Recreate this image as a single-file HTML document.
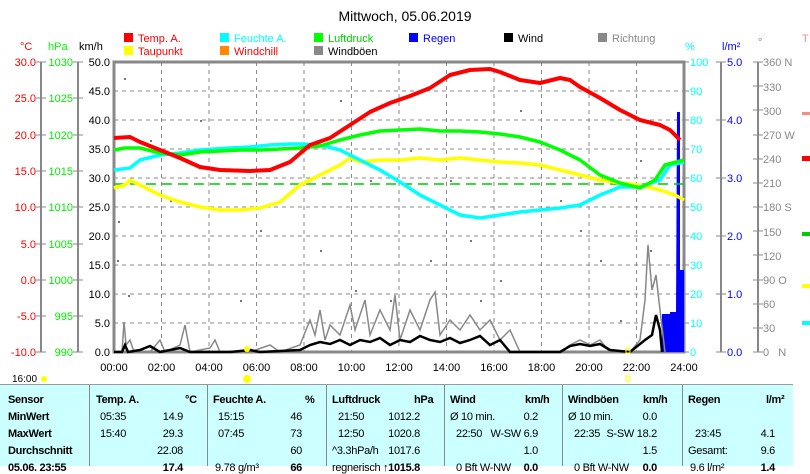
<!DOCTYPE html>
<html><head><style>
body{margin:0;width:810px;height:465px;overflow:hidden;background:#fff;font-family:"Liberation Sans",sans-serif;}
.t{position:absolute;left:0;top:384px;width:793px;height:81px;background:#ccffff;border-top:1px solid #999;font-size:11px;letter-spacing:-0.3px;}
.c{position:absolute;top:0;height:81px;border-left:1px solid #888;}
.r{position:absolute;white-space:nowrap;}
b{font-weight:bold}
</style></head><body>
<svg width="810" height="384" style="position:absolute;left:0;top:0" font-family="Liberation Sans, sans-serif" font-size="11">
<text x="405" y="21" text-anchor="middle" font-size="14">Mittwoch, 05.06.2019</text>
<g font-size="11">
<rect x="124" y="33" width="9" height="9" fill="#f00"/><text x="138" y="42" fill="#f00">Temp. A.</text>
<rect x="124" y="46" width="9" height="9" fill="#ff0"/><text x="138" y="55" fill="#f00">Taupunkt</text>
<rect x="220" y="33" width="9" height="9" fill="#0ff"/><text x="234" y="42" fill="#0ff">Feuchte A.</text>
<rect x="220" y="46" width="9" height="9" fill="#f80"/><text x="234" y="55" fill="#f00">Windchill</text>
<rect x="314" y="33" width="9" height="9" fill="#0f0"/><text x="328" y="42" fill="#0c0">Luftdruck</text>
<rect x="314" y="46" width="9" height="9" fill="#888"/><text x="328" y="55">Windböen</text>
<rect x="409" y="33" width="9" height="9" fill="#00f"/><text x="423" y="42" fill="#00f">Regen</text>
<rect x="504" y="33" width="9" height="9" fill="#000"/><text x="518" y="42">Wind</text>
<rect x="598" y="33" width="9" height="9" fill="#888"/><text x="612" y="42" fill="#888">Richtung</text>
</g>
<text x="20" y="50" fill="#f00">°C</text><text x="48" y="50" fill="#0f0">hPa</text><text x="79" y="50">km/h</text>
<text x="685" y="50" fill="#0ff">%</text><text x="722" y="50" fill="#00f">l/m²</text><text x="758" y="46" fill="#888">°</text>
<g stroke="#888" stroke-width="2"><line x1="41" y1="62" x2="41" y2="352"/><line x1="78" y1="62" x2="78" y2="352"/>
<line x1="721" y1="62" x2="721" y2="352"/><line x1="758" y1="62" x2="758" y2="352"/></g>
<g font-size="11" text-anchor="end">
<g fill="#f00"><text x="36" y="66">30.0</text><text x="36" y="102">25.0</text><text x="36" y="139">20.0</text><text x="36" y="175">15.0</text><text x="36" y="211">10.0</text><text x="36" y="248">5.0</text><text x="36" y="284">0.0</text><text x="36" y="320">-5.0</text><text x="36" y="356">-10.0</text></g>
<g fill="#0e0"><text x="73" y="66">1030</text><text x="73" y="102">1025</text><text x="73" y="139">1020</text><text x="73" y="175">1015</text><text x="73" y="211">1010</text><text x="73" y="248">1005</text><text x="73" y="284">1000</text><text x="73" y="320">995</text><text x="73" y="356">990</text></g>
<g fill="#000"><text x="110" y="66">50.0</text><text x="110" y="95">45.0</text><text x="110" y="124">40.0</text><text x="110" y="153">35.0</text><text x="110" y="182">30.0</text><text x="110" y="211">25.0</text><text x="110" y="240">20.0</text><text x="110" y="269">15.0</text><text x="110" y="298">10.0</text><text x="110" y="327">5.0</text><text x="110" y="356">0.0</text></g>
</g>
<g font-size="11" fill="#0ff"><text x="690" y="66">100</text><text x="690" y="95">90</text><text x="690" y="124">80</text><text x="690" y="153">70</text><text x="690" y="182">60</text><text x="690" y="211">50</text><text x="690" y="240">40</text><text x="690" y="269">30</text><text x="690" y="298">20</text><text x="690" y="327">10</text><text x="690" y="356">0</text></g>
<g font-size="11" fill="#00f"><text x="727" y="66">5.0</text><text x="727" y="124">4.0</text><text x="727" y="182">3.0</text><text x="727" y="240">2.0</text><text x="727" y="298">1.0</text><text x="727" y="356">0.0</text></g>
<g font-size="11" fill="#888"><text x="763" y="66">360 N</text><text x="763" y="91">330</text><text x="763" y="115">300</text><text x="763" y="139">270 W</text><text x="763" y="163">240</text><text x="763" y="187">210</text><text x="763" y="211">180 S</text><text x="763" y="236">150</text><text x="763" y="260">120</text><text x="763" y="284">90 O</text><text x="763" y="308">60</text><text x="763" y="332">30</text><text x="763" y="356">0&#160;&#160;&#160;N</text></g>
<g stroke="#888" stroke-width="1">
<path d="M36 62h10M36 98h10M36 135h10M36 171h10M36 207h10M36 244h10M36 280h10M36 316h10M36 352h10"/>
<path d="M73 62h10M73 98h10M73 135h10M73 171h10M73 207h10M73 244h10M73 280h10M73 316h10M73 352h10"/>
<path d="M684 62h5M684 91h5M684 120h5M684 149h5M684 178h5M684 207h5M684 236h5M684 265h5M684 294h5M684 323h5M684 352h5"/>
<path d="M716 62h10M716 120h10M716 178h10M716 236h10M716 294h10M716 352h10"/>
<path d="M753 62h10M753 86h10M753 110h10M753 135h10M753 159h10M753 183h10M753 207h10M753 231h10M753 255h10M753 280h10M753 304h10M753 328h10M753 352h10"/>
</g>
<g stroke="#888" stroke-dasharray="4,4">
<path d="M114 91h570M114 120h570M114 149h570M114 178h570M114 207h570M114 236h570M114 265h570M114 294h570M114 323h570"/>
<path d="M161.5 62v290M209 62v290M256.5 62v290M304 62v290M351.5 62v290M399 62v290M446.5 62v290M494 62v290M541.5 62v290M589 62v290M636.5 62v290"/>
</g>
<rect x="114" y="62" width="570" height="290" fill="none" stroke="#888" stroke-width="3"/>
<g fill="#777">
<rect x="124" y="78" width="2" height="2"/><rect x="170" y="200" width="2" height="2"/><rect x="200" y="120" width="2" height="2"/><rect x="240" y="300" width="2" height="2"/><rect x="300" y="150" width="2" height="2"/><rect x="320" y="250" width="2" height="2"/><rect x="355" y="290" width="2" height="2"/><rect x="370" y="180" width="2" height="2"/><rect x="390" y="300" width="2" height="2"/><rect x="410" y="150" width="2" height="2"/><rect x="430" y="260" width="2" height="2"/><rect x="450" y="180" width="2" height="2"/><rect x="470" y="240" width="2" height="2"/><rect x="500" y="280" width="2" height="2"/><rect x="520" y="110" width="2" height="2"/><rect x="560" y="200" width="2" height="2"/><rect x="600" y="260" width="2" height="2"/><rect x="640" y="160" width="2" height="2"/><rect x="650" y="250" width="2" height="2"/><rect x="117" y="260" width="2" height="2"/><rect x="118" y="221" width="2" height="2"/><rect x="128" y="295" width="2" height="2"/>
<rect x="150" y="140" width="2" height="2"/><rect x="260" y="230" width="2" height="2"/><rect x="340" y="100" width="2" height="2"/><rect x="480" y="300" width="2" height="2"/><rect x="580" y="230" width="2" height="2"/><rect x="620" y="320" width="2" height="2"/>
</g>
<polygon fill="#00f" points="662,352 662,314 670,314 670,312 676,312 677,112 680,112 680,270 684,270 684,352"/>
<polyline fill="none" stroke="#888" stroke-width="1.5" points="114,352 122,352 124,322 126,345 130,340 134,352 150,352 160,340 165,352 180,345 185,325 190,352 210,348 215,340 220,352 250,352 270,345 280,352 300,345 310,320 315,335 320,310 325,340 330,325 340,335 350,305 355,330 365,300 370,335 380,310 390,330 395,295 400,340 410,310 420,330 430,300 435,292 440,335 450,320 460,330 470,315 480,330 490,320 500,340 510,330 520,352 560,352 570,345 580,340 590,345 600,340 610,352 630,352 640,340 645,300 648,245 652,290 656,275 660,310 665,352"/>
<polyline fill="none" stroke="#000" stroke-width="2.5" points="114,352 122,352 125,345 128,352 140,350 150,346 160,352 180,348 190,352 230,352 250,350 260,352 300,350 310,345 320,342 330,344 340,340 350,345 360,340 370,342 380,338 390,345 400,340 410,342 420,336 430,340 440,342 450,338 460,343 470,340 480,336 490,345 500,340 510,352 560,352 570,346 580,344 590,346 600,344 610,350 630,352 645,340 652,335 656,315 660,330 662,352"/>
<line x1="114" y1="184" x2="684" y2="184" stroke="#0c0" stroke-width="1.5" stroke-dasharray="10,6"/>
<g fill="none" stroke-width="3.5" stroke-linejoin="round">
<polyline stroke="#ff0" points="114,188 125,185 130,180 160,195 180,202 200,207 220,210 240,210 260,208 280,202 300,185 320,175 340,165 350,158 360,162 380,160 400,160 420,158 440,160 460,158 480,160 500,162 520,163 540,165 560,170 580,175 600,180 620,183 640,185 660,190 675,195 684,200"/>
<polyline stroke="#0ff" points="114,170 130,168 140,160 160,155 180,153 200,150 230,148 250,147 270,145 290,144 300,144 320,145 340,150 360,160 380,170 400,182 420,195 440,205 460,215 480,218 500,215 520,212 540,210 560,208 580,205 600,195 620,187 640,187 660,180 670,165 684,162"/>
<polyline stroke="#0f0" points="114,150 125,148 140,148 160,153 180,155 200,152 220,151 240,150 260,150 280,149 300,148 320,146 340,140 360,135 380,131 400,130 420,129 440,131 460,131 480,132 500,134 520,137 540,142 560,150 580,160 600,175 620,183 640,188 655,180 665,165 684,160"/>
<polyline stroke="#f00" stroke-width="4" points="114,138 130,137 140,142 160,150 180,158 200,167 220,170 250,171 270,170 290,162 310,145 330,138 350,125 370,112 390,103 410,96 430,88 450,75 470,70 490,69 500,72 520,80 540,83 560,78 570,80 580,87 600,98 620,110 640,120 660,125 670,130 680,140"/>
</g>
<text x="802" y="42" fill="#f88">T</text>
<rect x="802" y="112" width="8" height="3" fill="#f88"/><rect x="802" y="156" width="8" height="5" fill="#f00"/><rect x="802" y="232" width="8" height="4" fill="#0c0"/><rect x="802" y="284" width="8" height="4" fill="#ff0"/><rect x="802" y="321" width="8" height="4" fill="#0ff"/>
<g font-size="11" text-anchor="middle"><text x="114" y="371">00:00</text><text x="161.5" y="371">02:00</text><text x="209" y="371">04:00</text><text x="256.5" y="371">06:00</text><text x="304" y="371">08:00</text><text x="351.5" y="371">10:00</text><text x="399" y="371">12:00</text><text x="446.5" y="371">14:00</text><text x="494" y="371">16:00</text><text x="541.5" y="371">18:00</text><text x="589" y="371">20:00</text><text x="636.5" y="371">22:00</text><text x="684" y="371">24:00</text></g>
<text x="12" y="382" font-size="10">16:00</text><circle cx="44" cy="379" r="3" fill="#ff0"/>
<circle cx="247" cy="349" r="3" fill="#ff0"/><circle cx="247" cy="379" r="4" fill="#ff0"/>
<rect x="626" y="348" width="4" height="5" fill="none" stroke="#ff0"/><rect x="626" y="376" width="4" height="5" fill="none" stroke="#ff0"/>
</svg>
<div class="t">
<div class="c" style="left:89px"></div><div class="c" style="left:207px"></div><div class="c" style="left:326px"></div><div class="c" style="left:444px"></div><div class="c" style="left:562px"></div><div class="c" style="left:682px"></div>
<div class="r" style="left:8px;top:9px"><b>Sensor</b></div>
<div class="r" style="left:8px;top:26px"><b>MinWert</b></div>
<div class="r" style="left:8px;top:43px"><b>MaxWert</b></div>
<div class="r" style="left:8px;top:60px"><b>Durchschnitt</b></div>
<div class="r" style="left:8px;top:77px"><b>05.06. 23:55</b></div>

<div class="r" style="left:96px;top:9px"><b>Temp. A.</b></div><div class="r" style="left:185px;top:9px"><b>°C</b></div>
<div class="r" style="left:100px;top:26px">05:35</div><div class="r" style="right:610px;top:26px">14.9</div>
<div class="r" style="left:100px;top:43px">15:40</div><div class="r" style="right:610px;top:43px">29.3</div>
<div class="r" style="right:610px;top:60px">22.08</div><div class="r" style="right:610px;top:77px"><b>17.4</b></div>

<div class="r" style="left:213px;top:9px"><b>Feuchte A.</b></div><div class="r" style="left:305px;top:9px"><b>%</b></div>
<div class="r" style="left:218px;top:26px">15:15</div><div class="r" style="right:491px;top:26px">46</div>
<div class="r" style="left:218px;top:43px">07:45</div><div class="r" style="right:491px;top:43px">73</div>
<div class="r" style="right:491px;top:60px">60</div><div class="r" style="left:215px;top:77px">9.78 g/m³</div><div class="r" style="right:491px;top:77px"><b>66</b></div>

<div class="r" style="left:332px;top:9px"><b>Luftdruck</b></div><div class="r" style="left:414px;top:9px"><b>hPa</b></div>
<div class="r" style="left:338px;top:26px">21:50</div><div class="r" style="right:373px;top:26px">1012.2</div>
<div class="r" style="left:338px;top:43px">12:50</div><div class="r" style="right:373px;top:43px">1020.8</div>
<div class="r" style="left:332px;top:60px">^3.3hPa/h</div><div class="r" style="right:373px;top:60px">1017.6</div>
<div class="r" style="left:332px;top:77px">regnerisch</div><div class="r" style="right:373px;top:77px"><b>↑1015.8</b></div>

<div class="r" style="left:450px;top:9px"><b>Wind</b></div><div class="r" style="left:525px;top:9px"><b>km/h</b></div>
<div class="r" style="left:450px;top:26px">Ø 10 min.</div><div class="r" style="right:255px;top:26px">0.2</div>
<div class="r" style="left:456px;top:43px">22:50</div><div class="r" style="right:255px;top:43px">W-SW 6.9</div>
<div class="r" style="right:255px;top:60px">1.0</div>
<div class="r" style="left:456px;top:77px">0 Bft W-NW</div><div class="r" style="right:255px;top:77px"><b>0.0</b></div>

<div class="r" style="left:568px;top:9px"><b>Windböen</b></div><div class="r" style="left:643px;top:9px"><b>km/h</b></div>
<div class="r" style="left:568px;top:26px">Ø 10 min.</div><div class="r" style="right:136px;top:26px">0.0</div>
<div class="r" style="left:574px;top:43px">22:35</div><div class="r" style="right:136px;top:43px">S-SW 18.2</div>
<div class="r" style="right:136px;top:60px">1.5</div>
<div class="r" style="left:574px;top:77px">0 Bft W-NW</div><div class="r" style="right:136px;top:77px"><b>0.0</b></div>

<div class="r" style="left:688px;top:9px"><b>Regen</b></div><div class="r" style="left:766px;top:9px"><b>l/m²</b></div>
<div class="r" style="left:695px;top:43px">23:45</div><div class="r" style="right:18px;top:43px">4.1</div>
<div class="r" style="left:688px;top:60px">Gesamt:</div><div class="r" style="right:18px;top:60px">9.6</div>
<div class="r" style="left:690px;top:77px">9.6 l/m²</div><div class="r" style="right:18px;top:77px"><b>1.4</b></div>
</div>
</body></html>
